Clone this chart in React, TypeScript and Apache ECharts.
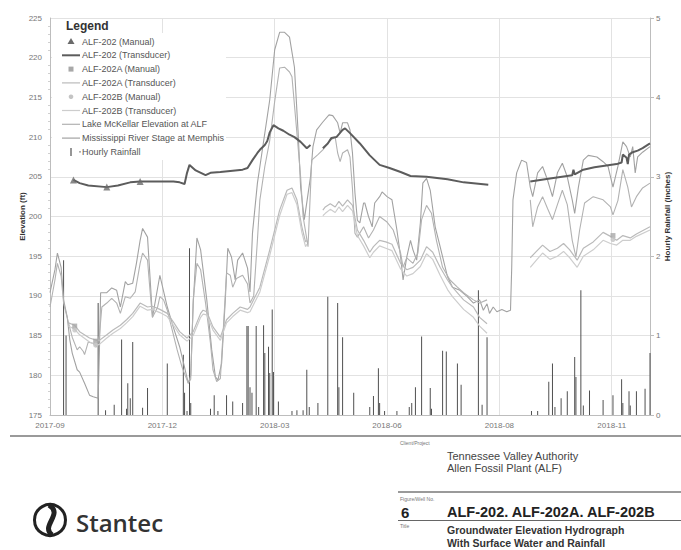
import React, { useEffect, useRef } from 'react';
import * as echarts from 'echarts';

// ---- axis definitions ----
const START_DATE = '2017-09-01';
const X_MAX_DAYS = 486;
const X_TICK_DAYS = 91;
const ELEV_MIN = 175;
const ELEV_MAX = 225;
const ELEV_STEP = 5;
const RAIN_MIN = 0;
const RAIN_MAX = 5;
const RAIN_STEP = 1;

type Pt = [number, number | null];

// x = days since START_DATE, y = elevation (ft)
const alf202Manual: Pt[] = [[19, 204.6], [46, 203.7], [73, 204.4]];
const alf202aManual: Pt[] = [[20, 186.2], [37, 184.3], [456, 197.6]];
const alf202bManual: Pt[] = [[20, 185.7], [37, 183.8], [456, 197.1]];

const alf202Transducer: Pt[] = [
  [19, 204.6], [24, 204.2], [31, 203.9], [46, 203.7], [55, 203.9], [65, 204.3], [73, 204.4], [85, 204.4],
  [100, 204.4], [105, 204.3], [109, 204.1], [111, 205.5], [113, 206.5], [118, 205.8], [126, 205.2], [130, 205.5],
  [138, 205.6], [150, 205.8], [156, 205.9], [160, 206.1], [164, 207.1], [168, 208.0], [170, 208.4], [174, 209.0],
  [176, 209.5], [178, 210.6], [181, 211.5], [185, 211.1], [189, 210.8], [194, 210.3], [198, 210.0], [203, 209.4],
  [208, 208.6], [211, 209.0], [215, null],
  [221, 208.6], [225, 209.2], [228, 209.9], [232, 210.0], [237, 210.9], [239, 211.1], [243, 210.5], [251, 209.2],
  [259, 207.7], [267, 206.5], [275, 206.1], [284, 205.6], [292, 205.1], [305, 205.0], [322, 204.7], [335, 204.3],
  [355, 204.0], [370, null],
  [389, 204.4], [405, 204.8], [423, 205.2], [424, 205.9], [425, 205.3], [432, 205.9], [441, 206.2], [459, 206.6],
  [463, 206.8], [464, 207.8], [467, 207.4], [468, 206.6], [469, 207.8], [472, 208.1], [476, 208.3], [480, 208.6],
  [486, 209.2],
];

const alf202aTransducer: Pt[] = [
  [15, 186.6], [20, 186.3], [24, 185.5], [32, 184.7], [38, 184.4], [40, 184.4], [46, 185.1], [51, 185.7],
  [57, 186.3], [62, 187.0], [67, 187.8], [73, 189.1], [79, 188.6], [83, 188.7], [89, 188.3], [95, 187.8],
  [100, 186.7], [105, 185.5], [111, 184.7], [116, 185.5], [122, 187.8], [124, 188.2], [127, 188.0], [132, 186.1],
  [138, 184.8], [143, 187.0], [148, 187.8], [154, 188.6], [160, 188.3], [162, 188.6], [170, 191.1], [178, 195.8],
  [186, 200.8], [192, 203.3], [196, 203.6], [200, 202.1], [204, 198.7], [207, 196.8], [208, 197.0], [214, null],
  [221, 200.8], [223, 201.2], [227, 201.6], [231, 201.2], [234, 201.9], [237, 201.3], [241, 202.1], [245, 201.4],
  [249, 198.3], [254, 197.0], [259, 195.5], [262, 196.2], [267, 197.0], [272, 196.8], [277, 196.5], [284, 194.1],
  [289, 193.3], [294, 193.6], [300, 194.5], [305, 196.2], [310, 195.5], [316, 193.6], [322, 192.0], [326, 191.1],
  [335, 189.5], [343, 188.6], [348, 187.3], [354, 186.5], [370, null],
  [389, 194.8], [394, 195.6], [399, 196.4], [405, 195.6], [411, 196.0], [416, 196.6], [421, 195.8], [427, 194.5],
  [432, 196.0], [440, 196.8], [448, 198.0], [454, 197.5], [459, 197.0], [464, 197.6], [470, 197.3], [475, 197.8],
  [486, 198.7],
];

const alf202bTransducer: Pt[] = [
  [15, 186.2], [20, 185.8], [24, 185.1], [32, 184.2], [38, 183.8], [40, 183.9], [46, 184.7], [51, 185.3],
  [57, 185.9], [62, 186.6], [67, 187.4], [73, 188.7], [79, 188.2], [83, 188.3], [89, 187.9], [95, 187.4],
  [100, 186.3], [105, 185.1], [111, 184.3], [116, 185.0], [122, 187.3], [124, 187.7], [127, 187.6], [132, 185.7],
  [138, 184.4], [143, 186.6], [148, 187.4], [154, 188.2], [160, 187.9], [162, 188.0], [170, 190.5], [178, 195.1],
  [186, 200.1], [192, 202.8], [196, 203.0], [200, 201.5], [204, 198.0], [207, 196.2], [208, 196.5], [214, null],
  [221, 200.1], [223, 200.4], [227, 200.9], [231, 200.5], [234, 201.2], [237, 200.6], [241, 201.4], [245, 200.7],
  [249, 197.6], [254, 196.3], [259, 194.8], [262, 195.5], [267, 196.3], [272, 196.0], [277, 195.7], [284, 193.4],
  [289, 192.5], [294, 192.8], [300, 193.7], [305, 195.3], [310, 194.6], [316, 192.6], [322, 190.8], [326, 189.9],
  [335, 188.3], [343, 187.3], [348, 186.2], [354, 185.3], [370, null],
  [389, 193.6], [394, 194.5], [399, 195.4], [405, 194.6], [411, 195.0], [416, 195.6], [421, 194.8], [427, 193.6],
  [432, 195.0], [440, 195.8], [448, 197.0], [454, 196.6], [459, 196.4], [464, 197.0], [470, 197.0], [475, 197.5],
  [486, 198.3],
];

const lakeMcKellar: Pt[] = [
  [0, 188.6], [4, 192.0], [6, 194.1], [9, 192.5], [11, 189.1], [15, 186.6], [18, 184.8], [22, 183.2], [24, 183.6],
  [27, 183.0], [28, 182.6], [31, 184.2], [35, 184.0], [38, 183.6], [40, 185.0], [42, 188.6], [46, 189.1], [50, 189.7],
  [54, 189.1], [57, 187.8], [61, 189.9], [65, 189.7], [69, 190.5], [73, 194.1], [75, 195.4], [79, 194.5], [81, 190.7],
  [83, 187.3], [87, 188.5], [89, 189.9], [92, 189.5], [95, 188.2], [99, 185.7], [103, 183.2], [107, 181.0], [110, 179.8],
  [112, 179.0], [114, 179.5], [116, 189.5], [119, 194.1], [122, 193.3], [126, 189.1], [130, 184.0], [132, 180.7],
  [135, 179.2], [138, 179.6], [140, 184.8], [143, 192.9], [146, 192.6], [148, 191.1], [151, 192.2], [156, 192.6],
  [160, 191.5], [162, 189.1], [165, 190.0], [168, 197.0], [170, 202.1], [174, 206.3], [178, 209.6], [182, 214.5],
  [186, 218.7], [190, 218.8], [194, 218.2], [196, 217.6], [200, 210.5], [203, 205.0], [205, 200.0], [209, 196.2],
  [212, 207.1], [217, 207.8], [221, 208.4], [227, 209.6], [231, 210.0], [233, 208.0], [235, 206.9], [237, 208.0],
  [241, 208.4], [243, 207.5], [245, 203.5], [247, 197.9], [249, 197.4], [254, 198.7], [258, 197.3], [262, 198.3],
  [267, 200.0], [273, 199.3], [278, 198.3], [284, 195.4], [286, 193.6], [289, 194.8], [294, 194.1], [298, 195.4],
  [301, 199.6], [305, 201.4], [309, 200.4], [313, 197.0], [318, 193.6], [324, 192.0], [330, 191.1], [335, 190.4],
  [343, 189.5], [348, 189.1], [354, 189.5], [370, null],
  [389, 202.1], [391, 198.7], [395, 201.2], [399, 202.5], [403, 201.0], [407, 199.6], [411, 201.5], [415, 203.3],
  [419, 201.5], [423, 197.0], [426, 194.9], [429, 198.3], [433, 201.7], [440, 202.5], [448, 202.1], [454, 201.2],
  [456, 200.2], [460, 202.0], [464, 205.9], [468, 203.7], [471, 201.2], [475, 202.5], [480, 203.6], [486, 204.2],
];

const mississippiStage: Pt[] = [
  [0, 190.4], [4, 193.3], [6, 195.4], [9, 193.6], [11, 189.5], [14, 187.3], [16, 184.5], [18, 182.8], [22, 180.7],
  [24, 180.4], [28, 179.0], [32, 177.5], [35, 177.3], [39, 177.1], [40, 183.0], [41, 190.4], [46, 190.4], [50, 191.0],
  [54, 190.7], [57, 188.6], [61, 191.8], [63, 191.4], [67, 191.6], [70, 194.1], [73, 197.0], [75, 198.5], [79, 197.4],
  [81, 192.4], [83, 187.3], [89, 192.6], [95, 188.6], [100, 186.0], [105, 183.6], [109, 181.0], [112, 179.0],
  [114, 180.0], [116, 189.0], [119, 197.3], [122, 195.8], [127, 189.5], [131, 183.2], [134, 179.8], [136, 179.4],
  [139, 181.5], [142, 189.5], [144, 196.0], [147, 194.9], [150, 192.0], [152, 194.5], [156, 195.4], [160, 193.5],
  [162, 190.5], [164, 197.9], [168, 204.2], [170, 206.3], [174, 210.5], [178, 214.7], [182, 221.0], [186, 223.2],
  [190, 223.2], [194, 222.6], [198, 218.8], [201, 210.5], [203, 203.7], [206, 199.6], [211, 205.0], [213, 208.8],
  [216, 210.9], [221, 211.9], [226, 212.8], [229, 212.7], [233, 211.8], [235, 210.5], [237, 211.8], [241, 211.8],
  [243, 210.9], [245, 208.0], [247, 203.0], [249, 199.5], [251, 199.2], [254, 201.7], [255, 201.7], [258, 200.0],
  [261, 198.7], [263, 201.7], [267, 202.5], [269, 203.1], [273, 202.5], [277, 202.1], [281, 198.3], [284, 194.9],
  [286, 192.0], [289, 194.9], [292, 197.0], [294, 195.8], [297, 194.5], [300, 199.2], [302, 204.2], [305, 204.8],
  [308, 203.3], [312, 198.7], [316, 196.2], [322, 192.4], [326, 191.1], [332, 190.7], [338, 189.9], [343, 189.1],
  [348, 189.5], [351, 188.2], [354, 189.0], [356, 187.8], [359, 188.6], [362, 188.0], [366, 188.3], [370, 188.0],
  [373, 188.2], [374, 193.6], [375, 202.1], [378, 205.5], [381, 206.7], [382, 207.1], [386, 206.8], [389, 203.7],
  [391, 202.5], [395, 205.5], [399, 206.3], [403, 204.6], [407, 202.5], [411, 205.5], [415, 206.7], [419, 205.0],
  [423, 202.1], [425, 200.4], [428, 203.7], [432, 207.1], [436, 207.7], [443, 207.5], [448, 206.9], [452, 206.3],
  [456, 203.7], [460, 206.3], [464, 209.4], [467, 208.8], [470, 207.5], [472, 208.8], [474, 205.5], [476, 207.5],
  [480, 208.1], [486, 208.8],
];

// x = days since START_DATE, y = inches
const hourlyRainfall: Pt[] = [
  [11, 1.95], [13, 1.0], [39, 1.41], [45, 0.06], [52, 0.13], [58, 0.95], [62, 0.08], [63, 0.4], [65, 0.21],
  [67, 0.92], [75, 0.09], [79, 0.34], [95, 0.65], [108, 0.76], [109, 0.28], [111, 0.05], [113, 2.1], [114, 0.15],
  [130, 0.08], [133, 0.25], [136, 0.05], [143, 0.25], [148, 0.17], [156, 0.15], [159.5, 1.12], [160.5, 1.12],
  [162, 0.35], [163.6, 0.28], [167, 1.12], [169, 0.1], [173, 1.13], [174, 0.78], [177, 0.86], [178, 0.53],
  [180, 1.33], [181, 0.54], [185, 0.17], [196, 0.05], [200, 0.06], [205, 0.06], [208, 0.57], [210, 0.1],
  [217, 0.15], [225, 1.49], [233, 1.41], [234, 0.35], [237, 0.98], [246, 0.28], [259, 0.1], [262, 0.24],
  [266, 0.59], [267, 0.15], [271, 0.05], [281, 0.05], [291, 0.1], [293, 0.15], [296, 0.35], [301, 0.99],
  [308, 0.34], [309, 0.08], [318, 0.81], [321, 0.8], [330, 0.65], [333, 0.38], [347, 1.57], [350, 0.13],
  [354, 0.98], [390, 0.05], [395, 0.05], [404, 0.42], [407, 0.65], [409, 0.1], [414, 0.21], [419, 0.3],
  [425, 0.73], [426, 0.48], [430, 1.57], [432, 0.12], [437, 0.31], [448, 0.19], [456, 0.25], [463, 0.45],
  [464, 0.15], [469, 0.3], [470, 0.12], [475, 0.3], [482, 0.33], [486, 0.78],
];

const SERIES_NAMES = [
  'ALF-202 (Manual)',
  'ALF-202 (Transducer)',
  'ALF-202A (Manual)',
  'ALF-202A (Transducer)',
  'ALF-202B (Manual)',
  'ALF-202B (Transducer)',
  'Lake McKellar Elevation at ALF',
  'Mississippi River Stage at Memphis',
  'Hourly Rainfall',
];

const C_202 = '#5c5c5c';
const C_202_MANUAL = '#6a6a6a';
const C_A = '#bababa';
const C_B = '#cdcdcd';
const C_A_MANUAL = '#a8a8a8';
const C_B_MANUAL = '#c4c4c4';
const C_LAKE = '#b2b2b2';
const C_RIVER = '#a2a2a2';
const C_RAIN = '#505050';
const FONT = 'Liberation Sans';

function dayLabel(v: number): string {
  const t = Date.parse(START_DATE + 'T00:00:00Z') + v * 86400000;
  const d = new Date(t);
  return `${d.getUTCFullYear()}-${String(d.getUTCMonth() + 1).padStart(2, '0')}`;
}

function buildLegend(): any[] {
  const els: any[] = [];
  els.push({ type: 'rect', z: 100, shape: { x: 52, y: 33, width: 174, height: 127 }, style: { fill: '#fff' } });
  els.push({
    type: 'text', z: 101, x: 66, y: 26,
    style: { text: 'Legend', font: `bold 12px ${FONT}`, fill: '#333', verticalAlign: 'middle' },
  });
  const lineColors: Record<number, [string, number]> = {
    1: [C_202, 2], 3: [C_A, 1.2], 5: [C_B, 1.2], 6: [C_LAKE, 1.2], 7: [C_RIVER, 1.2],
  };
  SERIES_NAMES.forEach((name, i) => {
    const cy = 41.5 + i * 13.8;
    if (lineColors[i]) {
      els.push({
        type: 'line', z: 101,
        shape: { x1: 62, y1: cy, x2: 80, y2: cy },
        style: { stroke: lineColors[i][0], lineWidth: lineColors[i][1] },
      });
    } else if (i === 0) {
      els.push({
        type: 'polygon', z: 101,
        shape: { points: [[71, cy - 3.5], [74.5, cy + 2.5], [67.5, cy + 2.5]] },
        style: { fill: C_202_MANUAL },
      });
    } else if (i === 2) {
      els.push({ type: 'rect', z: 101, shape: { x: 68.5, y: cy - 2.5, width: 5, height: 5 }, style: { fill: C_A_MANUAL } });
    } else if (i === 4) {
      els.push({ type: 'circle', z: 101, shape: { cx: 71, cy, r: 2.3 }, style: { fill: C_B_MANUAL } });
    } else if (i === 8) {
      els.push({ type: 'line', z: 101, shape: { x1: 71, y1: cy - 4, x2: 71, y2: cy + 4 }, style: { stroke: C_RAIN, lineWidth: 1.2 } });
      els.push({ type: 'line', z: 101, shape: { x1: 79, y1: cy, x2: 81, y2: cy }, style: { stroke: '#777', lineWidth: 1 } });
    }
    els.push({
      type: 'text', z: 101, x: 82, y: cy,
      style: { text: name, font: `9px ${FONT}`, fill: '#555', verticalAlign: 'middle' },
    });
  });
  return els;
}

function buildTitleBlock(): any[] {
  const els: any[] = [];
  els.push({ type: 'line', shape: { x1: 10, y1: 436, x2: 681, y2: 436 }, style: { stroke: '#9a9a9a', lineWidth: 2 } });
  els.push({ type: 'line', shape: { x1: 398, y1: 492, x2: 681, y2: 492 }, style: { stroke: '#9a9a9a', lineWidth: 2 } });
  els.push({ type: 'line', shape: { x1: 398, y1: 520.5, x2: 681, y2: 520.5 }, style: { stroke: '#666', lineWidth: 1 } });
  const small = (t: string, y: number) => ({
    type: 'text', x: 400, y, style: { text: t, font: `5px ${FONT}`, fill: '#777', verticalAlign: 'middle' },
  });
  els.push(small('Client/Project', 443));
  els.push(small('Figure/Well No.', 499));
  els.push(small('Title', 526));
  const txt = (t: string, x: number, y: number, font: string, fill: string) => ({
    type: 'text', x, y, style: { text: t, font, fill, verticalAlign: 'middle' },
  });
  els.push(txt('Tennessee Valley Authority', 447, 456, `11px ${FONT}`, '#444'));
  els.push(txt('Allen Fossil Plant (ALF)', 447, 468, `11px ${FONT}`, '#444'));
  els.push(txt('6', 401, 512, `bold 15px ${FONT}`, '#222'));
  els.push(txt('ALF-202. ALF-202A. ALF-202B', 447, 512, `bold 14.5px ${FONT}`, '#222'));
  els.push(txt('Groundwater Elevation Hydrograph', 447, 529.5, `bold 10.5px ${FONT}`, '#333'));
  els.push(txt('With Surface Water and Rainfall', 447, 543, `bold 10.5px ${FONT}`, '#333'));
  // Stantec logo
  els.push({ type: 'circle', shape: { cx: 50, cy: 520, r: 15.5 }, style: { fill: 'none', stroke: '#222', lineWidth: 3 } });
  els.push({
    type: 'bezierCurve',
    shape: { x1: 49, y1: 505, cpx1: 64, cpy1: 514, cpx2: 40, cpy2: 526, x2: 52, y2: 535 },
    style: { stroke: '#222', lineWidth: 5, fill: 'none' },
  });
  els.push(txt('Stantec', 76, 522, `600 24px 'Open Sans'`, '#333'));
  return els;
}

export default function App() {
  const ref = useRef<HTMLDivElement>(null);
  useEffect(() => {
    if (!ref.current) return;
    const chart = echarts.init(ref.current, undefined, { renderer: 'svg' });
    const lineSeries = (name: string, data: Pt[], color: string, width: number, z = 3) => ({
      name, type: 'line', data, yAxisIndex: 0, showSymbol: false, symbol: 'none', connectNulls: false,
      lineStyle: { color, width }, itemStyle: { color }, z,
    });
    chart.setOption({
      animation: false,
      backgroundColor: '#fff',
      textStyle: { fontFamily: FONT },
      grid: { left: 50, top: 18, width: 600, height: 397, containLabel: false },
      xAxis: {
        type: 'value', min: 0, max: X_MAX_DAYS, interval: X_TICK_DAYS,
        axisLine: { show: true, lineStyle: { color: '#bdbdbd' } },
        axisTick: { show: false },
        axisLabel: { formatter: (v: number) => dayLabel(v), color: '#777', fontSize: 8, margin: 6, showMaxLabel: false },
        splitLine: { show: true, lineStyle: { color: '#e2e2e2' } },
      },
      yAxis: [
        {
          type: 'value', position: 'left', min: ELEV_MIN, max: ELEV_MAX, interval: ELEV_STEP,
          name: 'Elevation (ft)', nameLocation: 'middle', nameGap: 24, nameRotate: 90, nameMoveOverlap: false,
          nameTextStyle: { fontWeight: 'bold', fontSize: 8, color: '#333' },
          axisLine: { show: true, lineStyle: { color: '#bdbdbd' } },
          axisTick: { show: false },
          minorTick: { show: true, splitNumber: 5, length: 2, lineStyle: { color: '#d0d0d0' } },
          axisLabel: { color: '#777', fontSize: 8, margin: 8 },
          splitLine: { show: true, lineStyle: { color: '#e2e2e2' } },
        },
        {
          type: 'value', position: 'right', min: RAIN_MIN, max: RAIN_MAX, interval: RAIN_STEP,
          name: 'Hourly Rainfall (inches)', nameLocation: 'middle', nameGap: 13, nameRotate: 90, nameMoveOverlap: false,
          nameTextStyle: { fontWeight: 'bold', fontSize: 8, color: '#333' },
          axisLine: { show: true, lineStyle: { color: '#bdbdbd' } },
          axisTick: { show: true, length: 4, lineStyle: { color: '#bdbdbd' } },
          axisLabel: { color: '#777', fontSize: 8, margin: 6 },
          splitLine: { show: false },
        },
      ],
      series: [
        {
          name: SERIES_NAMES[8], type: 'bar', yAxisIndex: 1, data: hourlyRainfall, barWidth: 1,
          itemStyle: { color: C_RAIN }, z: 1,
        },
        lineSeries(SERIES_NAMES[7], mississippiStage, C_RIVER, 1.1),
        lineSeries(SERIES_NAMES[6], lakeMcKellar, C_LAKE, 1.1),
        lineSeries(SERIES_NAMES[3], alf202aTransducer, C_A, 1.2),
        lineSeries(SERIES_NAMES[5], alf202bTransducer, C_B, 1.2),
        lineSeries(SERIES_NAMES[1], alf202Transducer, C_202, 2, 4),
        {
          name: SERIES_NAMES[0], type: 'scatter', data: alf202Manual, symbol: 'triangle', symbolSize: 7,
          itemStyle: { color: C_202_MANUAL }, z: 5,
        },
        {
          name: SERIES_NAMES[2], type: 'scatter', data: alf202aManual, symbol: 'rect', symbolSize: 5,
          itemStyle: { color: C_A_MANUAL }, z: 5,
        },
        {
          name: SERIES_NAMES[4], type: 'scatter', data: alf202bManual, symbol: 'circle', symbolSize: 5,
          itemStyle: { color: C_B_MANUAL }, z: 5,
        },
      ],
      graphic: [...buildLegend(), ...buildTitleBlock()],
    });
    return () => chart.dispose();
  }, []);
  return (
    <div
      ref={ref}
      style={{ position: 'fixed', left: 0, top: 0, width: 681, height: 550, background: '#fff' }}
    />
  );
}
